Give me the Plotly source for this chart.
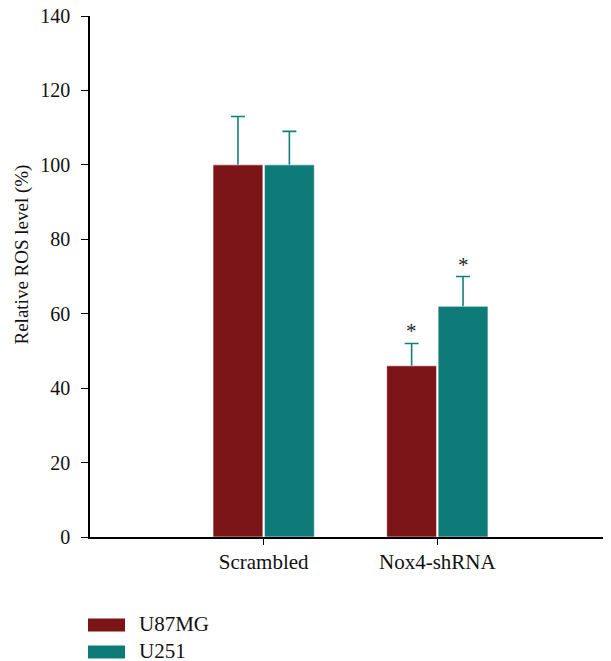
import plotly.graph_objects as go

categories = ["Scrambled", "Nox4-shRNA"]
series_names = ["U87MG", "U251"]
u87mg_values = [100, 46]
u87mg_errors = [13, 6]
u251_values = [100, 62]
u251_errors = [9, 8]
significance = {"U87MG": ["", "*"], "U251": ["", "*"]}
y_ticks = [0, 20, 40, 60, 80, 100, 120, 140]

colors = {"U87MG": "#7b1518", "U251": "#0e7b79"}
err_color = "#137e7c"
FONT = "Liberation Serif"

# figure geometry (page has 8px body margin)
W, H = 603, 653
L, T, B = 82, 8, 124
PH = H - T - B  # plot height in px
PW = W - L


def px_to_paper_y(py):
    return 1 - (py - T) / PH


def px_to_paper_x(px):
    return (px - L) / PW


series = [("U87MG", u87mg_values, u87mg_errors),
          ("U251", u251_values, u251_errors)]

fig = go.Figure()
# error bars first (transparent bars), so the solid bars drawn later hide the lower cap
for name, vals, errs in series:
    fig.add_trace(go.Bar(
        x=categories, y=vals, name=name, offsetgroup=name,
        marker=dict(color="rgba(0,0,0,0)", line=dict(width=0)),
        error_y=dict(type="data", array=errs, symmetric=False,
                     arrayminus=[1] * len(errs),
                     color=err_color, thickness=1.6, width=7),
        showlegend=False, hoverinfo="skip",
    ))
for name, vals, errs in series:
    fig.add_trace(go.Bar(
        x=categories, y=vals, name=name, offsetgroup=name,
        marker=dict(color=colors[name], line=dict(color="white", width=0.6)),
        showlegend=False,
    ))

# significance asterisks
for (name, vals, errs), shift in zip(series, [-26, 26]):
    for c, v, e, s in zip(categories, vals, errs, significance[name]):
        if s:
            fig.add_annotation(x=c, y=v + e, text=s, showarrow=False, xshift=shift,
                               yshift=12, font=dict(family=FONT, size=21, color="#222"))

# legend drawn manually
for i, name in enumerate(series_names):
    ypix = 617 + i * 27
    yp = px_to_paper_y(ypix)
    fig.add_shape(type="rect", xref="paper", yref="paper",
                  x0=px_to_paper_x(80), x1=px_to_paper_x(117),
                  y0=yp - 6.5 / PH, y1=yp + 6.5 / PH,
                  fillcolor=colors[name], line=dict(width=0))
    fig.add_annotation(xref="paper", yref="paper", x=px_to_paper_x(129), y=px_to_paper_y(ypix - 1),
                       text=name, showarrow=False, xanchor="left", yanchor="middle",
                       font=dict(family=FONT, size=21, color="#111"))

# y axis title
fig.add_annotation(xref="paper", yref="paper", x=px_to_paper_x(14), y=px_to_paper_y(246.5),
                   text="Relative ROS level (%)", textangle=-90, showarrow=False,
                   xanchor="center", yanchor="middle",
                   font=dict(family=FONT, size=19, color="#111"))

fig.update_layout(
    width=W, height=H,
    margin=dict(l=L, r=0, t=T, b=B, autoexpand=False),
    plot_bgcolor="white", paper_bgcolor="white",
    barmode="group", bargap=0.408, bargroupgap=0.03,
    font=dict(family=FONT, size=20, color="#111"),
    showlegend=False,
)
fig.update_xaxes(
    type="category", categoryorder="array", categoryarray=categories,
    range=[-1, 2], showline=True, linecolor="black", linewidth=1.5,
    ticks="outside", ticklen=6, tickcolor="black", tickwidth=1.2,
    showgrid=False, zeroline=False, ticklabelstandoff=-1, automargin=False,
    tickfont=dict(size=21),
)
fig.update_yaxes(
    range=[0, 140], tickvals=y_ticks, showline=True, linecolor="black", linewidth=1.5,
    ticks="outside", ticklen=7, tickcolor="black", tickwidth=1.2,
    showgrid=False, zeroline=False, ticklabelstandoff=7, ticklabeloverflow="allow",
    automargin=False, tickfont=dict(size=20),
)

fig.write_html("out.html")
